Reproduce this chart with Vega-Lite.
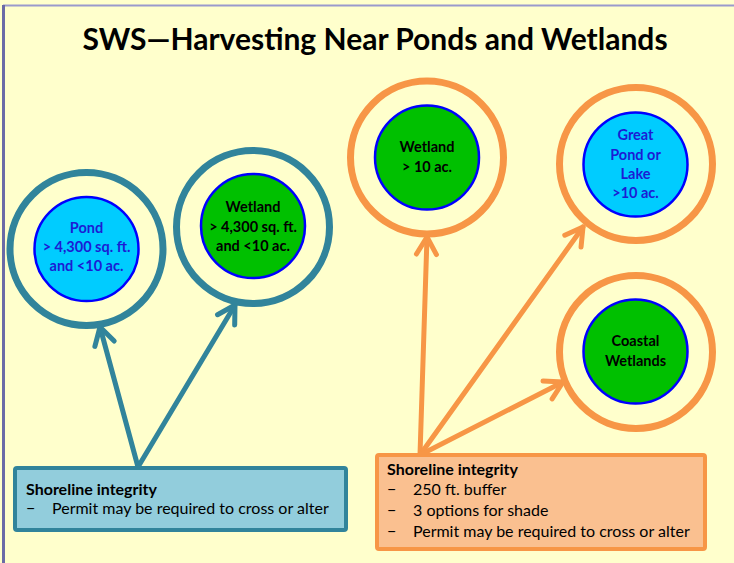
{
  "$schema": "https://vega.github.io/schema/vega-lite/v6.json",
  "width": 734,
  "height": 563,
  "padding": 0,
  "autosize": {"type": "none"},
  "background": "#FFFFCC",
  "config": {"view": {"stroke": null}},
  "datasets": {
    "title": [{"x": 375, "y": 50, "text": "SWS—Harvesting Near Ponds and Wetlands"}],
    "borders": [
      {"x": 3, "y": 5.5, "x2": 734, "y2": 5.5, "side": "top"},
      {"x": 3.5, "y": 5, "x2": 3.5, "y2": 563, "side": "left"}
    ],
    "arrows": [
      {"x": 138, "y": 467, "x2": 100, "y2": 327, "group": "teal"},
      {"x": 138, "y": 467, "x2": 235, "y2": 305, "group": "teal"},
      {"x": 420, "y": 455, "x2": 427, "y2": 237, "group": "orange"},
      {"x": 420, "y": 455, "x2": 583, "y2": 227, "group": "orange"},
      {"x": 420, "y": 455, "x2": 563, "y2": 382, "group": "orange"}
    ],
    "heads": [
      {"x": 100, "y": 327, "angle": -15.2, "group": "teal"},
      {"x": 235, "y": 305, "angle": 30.9, "group": "teal"},
      {"x": 427, "y": 237, "angle": 1.8, "group": "orange"},
      {"x": 583, "y": 227, "angle": 35.6, "group": "orange"},
      {"x": 563, "y": 382, "angle": 62.9, "group": "orange"}
    ],
    "rings": [
      {"x": 86.5, "y": 249, "group": "teal"},
      {"x": 253, "y": 227, "group": "teal"},
      {"x": 427, "y": 157.5, "group": "orange"},
      {"x": 636, "y": 164, "group": "orange"},
      {"x": 636, "y": 352, "group": "orange"}
    ],
    "cores": [
      {"x": 86.5, "y": 249, "kind": "pond"},
      {"x": 253, "y": 226, "kind": "wetland"},
      {"x": 427, "y": 157.5, "kind": "wetland"},
      {"x": 635.5, "y": 164.5, "kind": "pond"},
      {"x": 635.5, "y": 351.5, "kind": "wetland"}
    ],
    "labels": [
      {"x": 86.5, "y": 229, "kind": "pond", "text": "Pond"},
      {"x": 86.5, "y": 248, "kind": "pond", "text": "> 4,300 sq.  ft."},
      {"x": 86.5, "y": 267, "kind": "pond", "text": "and <10 ac."},
      {"x": 253, "y": 208, "kind": "wetland", "text": "Wetland"},
      {"x": 253, "y": 228, "kind": "wetland", "text": "> 4,300 sq. ft."},
      {"x": 253, "y": 247, "kind": "wetland", "text": "and <10 ac."},
      {"x": 427, "y": 148, "kind": "wetland", "text": "Wetland"},
      {"x": 427, "y": 168, "kind": "wetland", "text": " > 10 ac."},
      {"x": 635.5, "y": 136, "kind": "pond", "text": "Great"},
      {"x": 635.5, "y": 156, "kind": "pond", "text": "Pond or"},
      {"x": 635.5, "y": 175, "kind": "pond", "text": "Lake"},
      {"x": 635.5, "y": 194, "kind": "pond", "text": ">10 ac."},
      {"x": 635.5, "y": 342, "kind": "wetland", "text": "Coastal"},
      {"x": 635.5, "y": 362, "kind": "wetland", "text": "Wetlands"}
    ],
    "boxes": [
      {"x": 15, "y": 468, "x2": 346, "y2": 530, "group": "teal"},
      {"x": 377, "y": 455, "x2": 705, "y2": 549, "group": "orange"}
    ],
    "headers": [
      {"x": 26, "y": 495, "text": "Shoreline integrity"},
      {"x": 387, "y": 475, "text": "Shoreline integrity"}
    ],
    "items": [
      {"x": 26, "y": 514, "text": "Permit may be required to cross or alter"},
      {"x": 387, "y": 495, "text": "250 ft. buffer"},
      {"x": 387, "y": 516, "text": "3 options for shade"},
      {"x": 387, "y": 537, "text": "Permit may be required to cross or alter"}
    ]
  },
  "encoding": {
    "x": {"field": "x", "type": "quantitative", "scale": {"domain": [0, 734], "nice": false, "zero": false}, "axis": null},
    "y": {"field": "y", "type": "quantitative", "scale": {"domain": [0, 563], "nice": false, "zero": false, "reverse": true}, "axis": null}
  },
  "resolve": {"scale": {"color": "independent", "fill": "independent", "stroke": "independent", "strokeWidth": "independent"}},
  "layer": [
    {
      "data": {"name": "borders"},
      "mark": {"type": "rule"},
      "encoding": {
        "x2": {"field": "x2"},
        "y2": {"field": "y2"},
        "color": {"field": "side", "type": "nominal", "scale": {"domain": ["top", "left"], "range": ["#9A9ACC", "#6B6BA6"]}, "legend": null},
        "strokeWidth": {"field": "side", "type": "nominal", "scale": {"domain": ["top", "left"], "range": [2, 3]}, "legend": null}
      }
    },
    {
      "data": {"name": "title"},
      "mark": {"type": "text", "font": "Lato", "fontWeight": "bold", "fontSize": 30, "align": "center", "baseline": "alphabetic", "color": "#000000"},
      "encoding": {"text": {"field": "text"}}
    },
    {
      "data": {"name": "arrows"},
      "mark": {"type": "rule", "strokeWidth": 5, "strokeCap": "round"},
      "encoding": {
        "x2": {"field": "x2"},
        "y2": {"field": "y2"},
        "color": {"field": "group", "type": "nominal", "scale": {"domain": ["teal", "orange"], "range": ["#31849B", "#F79646"]}, "legend": null}
      }
    },
    {
      "data": {"name": "heads"},
      "mark": {"type": "point", "shape": "M -0.5 0.866 L 0 0 L 0.5 0.866", "filled": false, "size": 1600, "strokeWidth": 5, "strokeCap": "round", "strokeJoin": "round", "opacity": 1},
      "encoding": {
        "angle": {"field": "angle", "type": "quantitative", "scale": null},
        "color": {"field": "group", "type": "nominal", "scale": {"domain": ["teal", "orange"], "range": ["#31849B", "#F79646"]}, "legend": null}
      }
    },
    {
      "data": {"name": "rings"},
      "mark": {"type": "point", "shape": "circle", "filled": false, "size": 23409, "strokeWidth": 7, "opacity": 1},
      "encoding": {
        "color": {"field": "group", "type": "nominal", "scale": {"domain": ["teal", "orange"], "range": ["#31849B", "#F79646"]}, "legend": null}
      }
    },
    {
      "data": {"name": "cores"},
      "mark": {"type": "point", "shape": "circle", "filled": true, "size": 10816, "stroke": "#0000FF", "strokeWidth": 2.5, "opacity": 1},
      "encoding": {
        "fill": {"field": "kind", "type": "nominal", "scale": {"domain": ["pond", "wetland"], "range": ["#00CCFF", "#00C000"]}, "legend": null}
      }
    },
    {
      "data": {"name": "labels"},
      "mark": {"type": "text", "font": "Lato", "fontWeight": "bold", "fontSize": 14.5, "align": "center", "baseline": "middle"},
      "encoding": {
        "text": {"field": "text"},
        "color": {"field": "kind", "type": "nominal", "scale": {"domain": ["pond", "wetland"], "range": ["#1C1CD4", "#000000"]}, "legend": null}
      }
    },
    {
      "data": {"name": "boxes"},
      "mark": {"type": "rect", "strokeWidth": 4, "cornerRadius": 2},
      "encoding": {
        "x2": {"field": "x2"},
        "y2": {"field": "y2"},
        "fill": {"field": "group", "type": "nominal", "scale": {"domain": ["teal", "orange"], "range": ["#92CDDC", "#FAC090"]}, "legend": null},
        "stroke": {"field": "group", "type": "nominal", "scale": {"domain": ["teal", "orange"], "range": ["#31849B", "#F79646"]}, "legend": null}
      }
    },
    {
      "data": {"name": "headers"},
      "mark": {"type": "text", "font": "Lato", "fontWeight": "bold", "fontSize": 16, "align": "left", "baseline": "alphabetic", "color": "#000000"},
      "encoding": {"text": {"field": "text"}}
    },
    {
      "data": {"name": "items"},
      "mark": {"type": "text", "font": "Lato", "fontSize": 16, "align": "left", "baseline": "alphabetic", "color": "#000000", "text": "−"},
      "encoding": {}
    },
    {
      "data": {"name": "items"},
      "mark": {"type": "text", "font": "Lato", "fontSize": 16, "align": "left", "baseline": "alphabetic", "color": "#000000", "dx": 26},
      "encoding": {"text": {"field": "text"}}
    }
  ]
}
